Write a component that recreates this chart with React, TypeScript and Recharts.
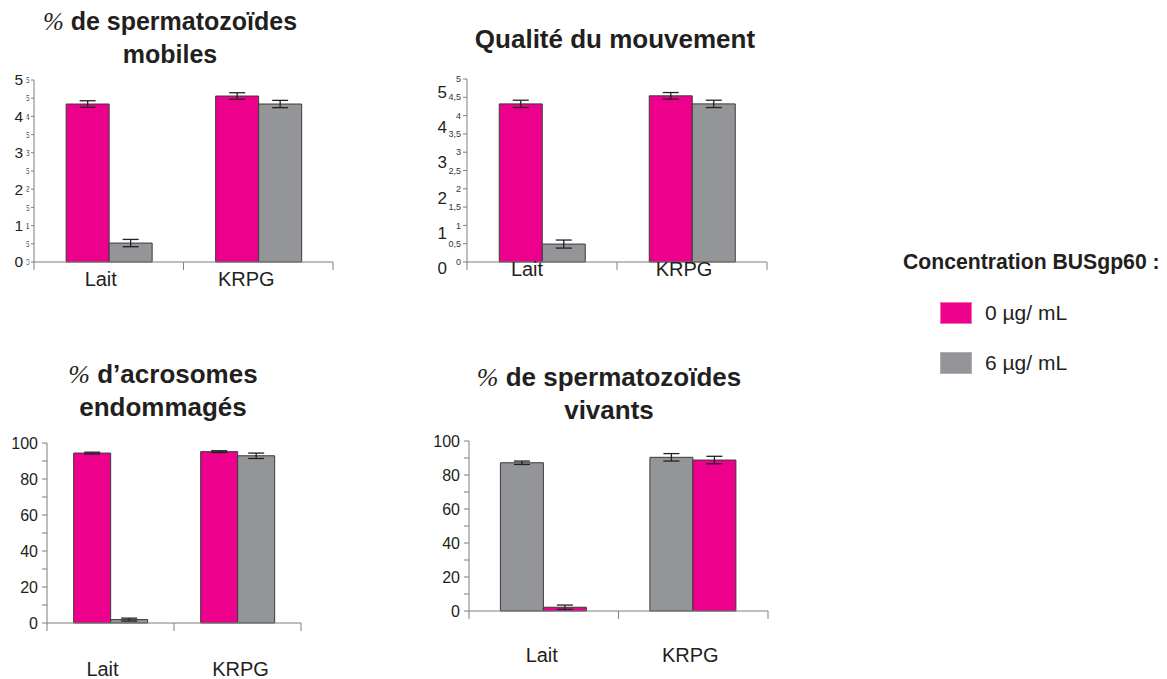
import React from 'react';
import { BarChart, Bar, XAxis, YAxis, ErrorBar } from 'recharts';

// ---- data ----
const categories = ['Lait', 'KRPG'];

// % de spermatozoïdes mobiles
const mobiles0 = [4.34, 4.56];
const mobiles0Err = [0.09, 0.09];
const mobiles6 = [0.52, 4.34];
const mobiles6Err = [0.1, 0.1];

// Qualité du mouvement
const qualite0 = [4.32, 4.54];
const qualite0Err = [0.1, 0.09];
const qualite6 = [0.49, 4.32];
const qualite6Err = [0.11, 0.1];

// % d'acrosomes endommagés
const acrosomes0 = [94.4, 95.2];
const acrosomes0Err = [0.5, 0.5];
const acrosomes6 = [1.9, 92.9];
const acrosomes6Err = [0.8, 1.5];

// % de spermatozoïdes vivants (grey bar drawn first in each group)
const vivantsFirst = [87.2, 90.4];
const vivantsFirstErr = [1, 2.2];
const vivantsSecond = [2.2, 88.8];
const vivantsSecondErr = [1.3, 2.2];

// tick values
const halfStepTicks = [0, 0.5, 1, 1.5, 2, 2.5, 3, 3.5, 4, 4.5, 5];
const unitTicks = [0, 1, 2, 3, 4, 5];
const percentTicks = [0, 10, 20, 30, 40, 50, 60, 70, 80, 90, 100];

const legendItems = ['0 µg/ mL', '6 µg/ mL'];

// ---- styles ----
const PINK = '#EC008C';
const GRAY = '#939598';
const BAR_STROKE = '#3b3b3b';
const AXIS = '#7f7f7f';
const TEXT = '#231F20';
const FONT = '"Liberation Sans", Arial, Helvetica, sans-serif';
const SERIF = '"Liberation Serif", "Times New Roman", serif';
const EDGE_TICK = 8;

const buildRows = (a: number[], aErr: number[], b: number[], bErr: number[]) =>
  categories.map((cat, i) => ({ cat, a: a[i], aErr: aErr[i], b: b[i], bErr: bErr[i] }));

const mobilesRows = buildRows(mobiles0, mobiles0Err, mobiles6, mobiles6Err);
const qualiteRows = buildRows(qualite0, qualite0Err, qualite6, qualite6Err);
const acrosomesRows = buildRows(acrosomes0, acrosomes0Err, acrosomes6, acrosomes6Err);
const vivantsRows = buildRows(vivantsFirst, vivantsFirstErr, vivantsSecond, vivantsSecondErr);

const comma = (v: number) => String(v).replace('.', ',');

// category label (with a small per-panel nudge) plus tick marks on the group boundaries
const makeCategoryTick = (margin: number, shift: number[]) => (props: any) => {
  const { x, y, payload } = props;
  const i = categories.indexOf(payload.value);
  const half = payload.offset || 0;
  const axisY = y - margin;
  const left = x - half;
  const right = x + half;
  return (
    <g>
      <line x1={left} x2={left} y1={axisY} y2={axisY + EDGE_TICK} stroke={AXIS} />
      {i === categories.length - 1 && <line x1={right} x2={right} y1={axisY} y2={axisY + EDGE_TICK} stroke={AXIS} />}
      <text x={x + (shift[i] || 0)} y={y} dy="0.71em" textAnchor="middle" fontSize={20} fill={TEXT} fontFamily={FONT}>
        {payload.value}
      </text>
    </g>
  );
};

// first panel: big integer labels plus clipped half-step labels next to the axis
const MobilesYTick = (props: any) => {
  const { x, y, payload } = props;
  const v = payload.value as number;
  return (
    <g>
      <svg x={x - 4.5} y={y - 7} width={3} height={14} overflow="hidden">
        <text x={3.6} y={7} dy="0.35em" textAnchor="end" fontSize={9} fill="#555" fontFamily={FONT}>
          {comma(v)}
        </text>
      </svg>
      {Number.isInteger(v) && (
        <text x={x - 8} y={y} dy="0.35em" textAnchor="end" fontSize={15.5} fill={TEXT} fontFamily={FONT}>
          {v}
        </text>
      )}
    </g>
  );
};

const categoryAxis = (margin: number, shift: number[]) => (
  <XAxis
    dataKey="cat"
    stroke={AXIS}
    tickLine={false}
    tickSize={0}
    tickMargin={margin}
    height={1}
    interval={0}
    tick={makeCategoryTick(margin, shift)}
  />
);

const bars = (first: string, second: string) => [
  <Bar key="a" dataKey="a" yAxisId={0} fill={first} stroke={BAR_STROKE} strokeWidth={1} isAnimationActive={false}>
    <ErrorBar dataKey="aErr" width={8} stroke="#222" strokeWidth={1.3} />
  </Bar>,
  <Bar key="b" dataKey="b" yAxisId={0} fill={second} stroke={BAR_STROKE} strokeWidth={1} isAnimationActive={false}>
    <ErrorBar dataKey="bErr" width={8} stroke="#222" strokeWidth={1.3} />
  </Bar>,
];

const Title = ({ left, top, width, lines, size }: { left: number; top: number; width: number; lines: React.ReactNode[]; size: number }) => (
  <div
    style={{
      position: 'absolute',
      left,
      top,
      width,
      textAlign: 'center',
      fontFamily: FONT,
      fontWeight: 700,
      fontSize: size,
      lineHeight: '33px',
      color: TEXT,
      whiteSpace: 'nowrap',
    }}
  >
    {lines.map((l, i) => (
      <div key={i}>{l}</div>
    ))}
  </div>
);

const Pct = () => <span style={{ fontFamily: SERIF, fontWeight: 400, fontStyle: 'italic' }}>%</span>;

export default function App() {
  return (
    <div style={{ position: 'absolute', left: 0, top: 0, width: 1167, height: 679, background: '#fff', overflow: 'hidden' }}>
      <Title left={0} top={5} width={340} size={25} lines={[<><Pct /> de spermatozoïdes</>, 'mobiles']} />
      <Title left={440} top={23} width={350} size={26} lines={['Qualité du mouvement']} />
      <Title left={0} top={358} width={326} size={26} lines={[<><Pct /> d’acrosomes</>, 'endommagés']} />
      <Title left={440} top={361} width={338} size={26} lines={[<><Pct /> de spermatozoïdes</>, 'vivants']} />

      {/* % de spermatozoïdes mobiles */}
      <div style={{ position: 'absolute', left: 0, top: 60 }}>
        <BarChart width={345} height={240} data={mobilesRows} margin={{ top: 20, right: 12, bottom: 37, left: 0 }} barCategoryGap="21.5%" barGap={0}>
          {categoryAxis(10, [-8, -12])}
          <YAxis
            yAxisId={0}
            width={34}
            domain={[0, 5]}
            ticks={halfStepTicks}
            interval={0}
            tickSize={3}
            tickMargin={0}
            stroke={AXIS}
            tick={<MobilesYTick />}
          />
          {bars(PINK, GRAY)}
        </BarChart>
      </div>

      {/* Qualité du mouvement */}
      <div style={{ position: 'absolute', left: 400, top: 60 }}>
        <BarChart width={380} height={240} data={qualiteRows} margin={{ top: 19, right: 13, bottom: 37, left: 17 }} barCategoryGap="21.5%" barGap={0}>
          {categoryAxis(0, [-15, -8])}
          <YAxis
            yAxisId={0}
            width={20}
            domain={[0, 5]}
            ticks={halfStepTicks}
            interval={0}
            tickSize={4}
            tickMargin={2}
            stroke={AXIS}
            tickFormatter={comma}
            tick={{ fontSize: 9, fill: '#333', fontFamily: FONT }}
          />
          <YAxis
            yAxisId="big"
            width={30}
            domain={[0.17, 5.37]}
            ticks={unitTicks}
            interval={0}
            axisLine={false}
            tickLine={false}
            tickSize={0}
            tickMargin={0}
            allowDataOverflow
            tick={{ fontSize: 17, fill: TEXT, fontFamily: FONT }}
          />
          {bars(PINK, GRAY)}
        </BarChart>
      </div>

      {/* % d'acrosomes endommagés */}
      <div style={{ position: 'absolute', left: 0, top: 420 }}>
        <BarChart width={320} height={259} data={acrosomesRows} margin={{ top: 23, right: 19, bottom: 55, left: 0 }} barCategoryGap="21%" barGap={0}>
          {categoryAxis(39, [-8, 3])}
          <YAxis
            yAxisId={0}
            width={47}
            domain={[0, 100]}
            ticks={percentTicks}
            interval={0}
            tickSize={5}
            tickMargin={4}
            stroke={AXIS}
            tickFormatter={(v: number) => (v % 20 === 0 ? String(v) : '')}
            tick={{ fontSize: 16, fill: TEXT, fontFamily: FONT }}
          />
          {bars(PINK, GRAY)}
        </BarChart>
      </div>

      {/* % de spermatozoïdes vivants */}
      <div style={{ position: 'absolute', left: 420, top: 420 }}>
        <BarChart width={360} height={259} data={vivantsRows} margin={{ top: 21, right: 12, bottom: 67, left: 0 }} barCategoryGap="21%" barGap={0}>
          {categoryAxis(37, [-2, -3])}
          <YAxis
            yAxisId={0}
            width={49}
            domain={[0, 100]}
            ticks={percentTicks}
            interval={0}
            tickSize={5}
            tickMargin={4}
            stroke={AXIS}
            tickFormatter={(v: number) => (v % 20 === 0 ? String(v) : '')}
            tick={{ fontSize: 16, fill: TEXT, fontFamily: FONT }}
          />
          {bars(GRAY, PINK)}
        </BarChart>
      </div>

      {/* legend */}
      <div style={{ position: 'absolute', left: 903, top: 249, fontFamily: FONT, fontWeight: 700, fontSize: 21.2, lineHeight: '26px', color: TEXT, whiteSpace: 'nowrap' }}>
        Concentration BUSgp60 :
      </div>
      {legendItems.map((label, i) => (
        <div key={label} style={{ position: 'absolute', left: 940, top: 302 + i * 50, height: 22, display: 'flex', alignItems: 'center' }}>
          <div
            style={{
              width: 30,
              height: 20,
              background: i === 0 ? PINK : GRAY,
              border: `1px solid ${i === 0 ? '#f26bb5' : '#b9a9b8'}`,
            }}
          />
          <div style={{ marginLeft: 13, fontFamily: FONT, fontSize: 21, color: TEXT, whiteSpace: 'nowrap' }}>{label}</div>
        </div>
      ))}
    </div>
  );
}
